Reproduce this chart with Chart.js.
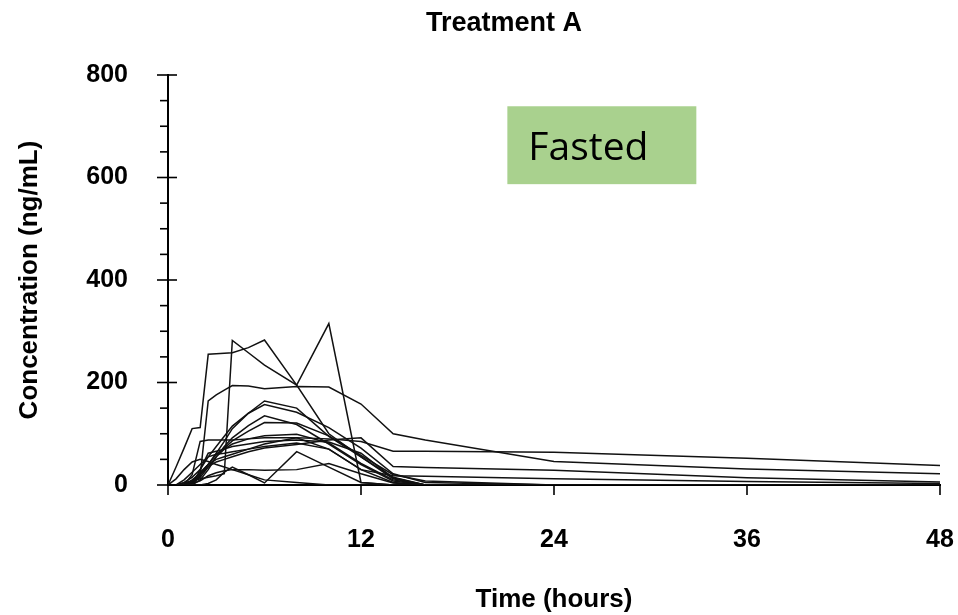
<!DOCTYPE html>
<html>
<head>
<meta charset="utf-8">
<title>Treatment A</title>
<script src="https://cdn.jsdelivr.net/npm/chart.js@4.4.0/dist/chart.umd.min.js"></script>
<style>
  html, body { margin: 0; padding: 0; background: #fff; }
</style>
</head>
<body>
<canvas id="chart" width="958" height="615"></canvas>
<script>
// sampling times (hours)
const times = [0, 0.5, 1, 1.5, 2, 2.5, 3, 3.5, 4, 5, 6, 8, 10, 12, 14, 16, 24, 36, 48];

// plasma concentration per subject (ng/mL), one value per sampling time
const s01 = [0, 35, 72, 110, 112, 255, 256, 257, 258, 268, 283, 195, 315, 5, 0, 0, 0, 0, 0];
const s02 = [0, 0, 4, 8, 12, 15, 18, 22, 282, 258, 234, 195, 100, 55, 15, 0, 0, 0, 0];
const s03 = [0, 0, 0, 0, 18, 164, 176, 185, 194, 193, 188, 192, 191, 158, 100, 88, 46, 31, 22];
const s04 = [0, 0, 0, 20, 85, 88, 88, 88, 88, 90, 92, 92, 90, 85, 66, 66, 64, 52, 38];
const s05 = [0, 0, 0, 5, 20, 40, 62, 85, 110, 140, 164, 150, 95, 55, 12, 0, 0, 0, 0];
const s06 = [0, 0, 5, 15, 30, 55, 75, 95, 115, 140, 157, 142, 112, 72, 22, 5, 0, 0, 0];
const s07 = [0, 0, 0, 0, 10, 30, 55, 75, 92, 116, 135, 118, 80, 40, 8, 0, 0, 0, 0];
const s08 = [0, 0, 0, 10, 22, 40, 60, 72, 86, 105, 122, 121, 96, 58, 20, 8, 0, 0, 0];
const s09 = [0, 0, 0, 5, 20, 36, 45, 50, 55, 65, 72, 79, 88, 92, 36, 34, 29, 14, 6];
const s10 = [0, 0, 2, 8, 25, 40, 50, 55, 60, 70, 80, 92, 70, 30, 18, 17, 12, 7, 3];
const s11 = [0, 0, 0, 0, 0, 3, 10, 25, 35, 20, 4, 65, 35, 5, 0, 0, 0, 0, 0];
const s12 = [0, 0, 0, 3, 8, 18, 24, 28, 30, 30, 29, 30, 42, 22, 4, 0, 0, 0, 0];
const s13 = [0, 0, 0, 5, 15, 35, 55, 70, 80, 90, 96, 99, 82, 42, 10, 0, 0, 0, 0];
const s14 = [0, 0, 10, 25, 40, 55, 60, 62, 65, 70, 75, 82, 70, 30, 5, 0, 0, 0, 0];
const s15 = [0, 12, 30, 45, 50, 46, 40, 35, 30, 20, 10, 5, 0, 0, 0, 0, 0, 0, 0];
const s16 = [0, 0, 0, 0, 30, 62, 66, 70, 75, 80, 85, 88, 84, 62, 14, 0, 0, 0, 0];

const subjects = [s01, s02, s03, s04, s05, s06, s07, s08, s09, s10, s11, s12, s13, s14, s15, s16];

const xTicks = [0, 12, 24, 36, 48];
const yLabels = [0, 200, 400, 600, 800];

const chartTitle = "Treatment A";
const boxLabel = "Fasted";

const boldFont = "'Liberation Sans', Arial, sans-serif";

// one black line per subject
const datasets = subjects.map(function (conc, i) {
  return {
    label: "Subject " + (i + 1),
    data: times.map(function (t, j) { return { x: t, y: conc[j] }; }),
    borderColor: "#111",
    borderWidth: 1.5,
    pointRadius: 0,
    tension: 0,
    fill: false
  };
});

// title, green label box and the axis tick marks
const extras = {
  id: "extras",
  afterDraw(chart) {
    const ctx = chart.ctx;
    const xs = chart.scales.x;
    const ys = chart.scales.y;
    ctx.save();

    // tick marks: long ones cross the y axis, short ones sit on its left
    ctx.strokeStyle = "#000";
    ctx.lineWidth = 1.6;
    ys.ticks.forEach(function (tk) {
      const py = ys.getPixelForValue(tk.value);
      const major = yLabels.indexOf(tk.value) !== -1;
      ctx.beginPath();
      ctx.moveTo(xs.left - (major ? 11 : 8), py);
      ctx.lineTo(xs.left + (major ? 9 : 0), py);
      ctx.stroke();
    });
    xs.ticks.forEach(function (tk) {
      const px = xs.getPixelForValue(tk.value);
      ctx.beginPath();
      ctx.moveTo(px, ys.bottom);
      ctx.lineTo(px, ys.bottom + 10);
      ctx.stroke();
    });

    // green box in data units
    const x0 = xs.getPixelForValue(21.1);
    const x1 = xs.getPixelForValue(32.85);
    const y0 = ys.getPixelForValue(739);
    const y1 = ys.getPixelForValue(587);
    ctx.fillStyle = "#a9d18e";
    ctx.fillRect(x0, y0, x1 - x0, y1 - y0);
    ctx.fillStyle = "#000";
    ctx.font = "39px 'Open Sans', sans-serif";
    ctx.textAlign = "left";
    ctx.textBaseline = "alphabetic";
    ctx.fillText(boxLabel, x0 + 21, y0 + 54);

    // title
    ctx.font = "bold 27px " + boldFont;
    ctx.textAlign = "center";
    ctx.textBaseline = "middle";
    ctx.fillText(chartTitle, 504, 24);
    ctx.restore();
  }
};

new Chart(document.getElementById("chart"), {
  type: "line",
  data: { datasets: datasets },
  plugins: [extras],
  options: {
    responsive: false,
    animation: false,
    layout: { padding: { top: 75, right: 18, bottom: 0, left: 0 } },
    plugins: {
      legend: { display: false },
      tooltip: { enabled: false },
      title: { display: false }
    },
    scales: {
      x: {
        type: "linear",
        min: 0,
        max: 48,
        afterBuildTicks(scale) {
          scale.ticks = xTicks.map(function (v) { return { value: v }; });
        },
        afterFit(scale) {
          scale.height = 130;
          scale.paddingLeft = 0;
          scale.paddingRight = 0;
        },
        grid: { display: false, drawTicks: false },
        border: { display: true, color: "#000", width: 2 },
        ticks: {
          color: "#000",
          padding: 40,
          maxRotation: 0,
          font: { family: boldFont, size: 25, weight: "bold" }
        },
        title: {
          display: true,
          text: "Time (hours)",
          color: "#000",
          padding: { top: 0, bottom: 0 },
          font: { family: boldFont, size: 26, weight: "bold" }
        }
      },
      y: {
        min: 0,
        max: 800,
        afterFit(scale) { scale.width = 168; },
        grid: { display: false, drawTicks: false },
        border: { display: true, color: "#000", width: 2 },
        ticks: {
          stepSize: 50,
          color: "#000",
          padding: 40,
          autoSkip: false,
          font: { family: boldFont, size: 25, weight: "bold" },
          callback: function (v) { return yLabels.indexOf(v) !== -1 ? v : ""; }
        },
        title: {
          display: true,
          text: "Concentration (ng/mL)",
          color: "#000",
          padding: { top: 14, bottom: 0 },
          font: { family: boldFont, size: 26, weight: "bold" }
        }
      }
    }
  }
});
</script>
</body>
</html>
